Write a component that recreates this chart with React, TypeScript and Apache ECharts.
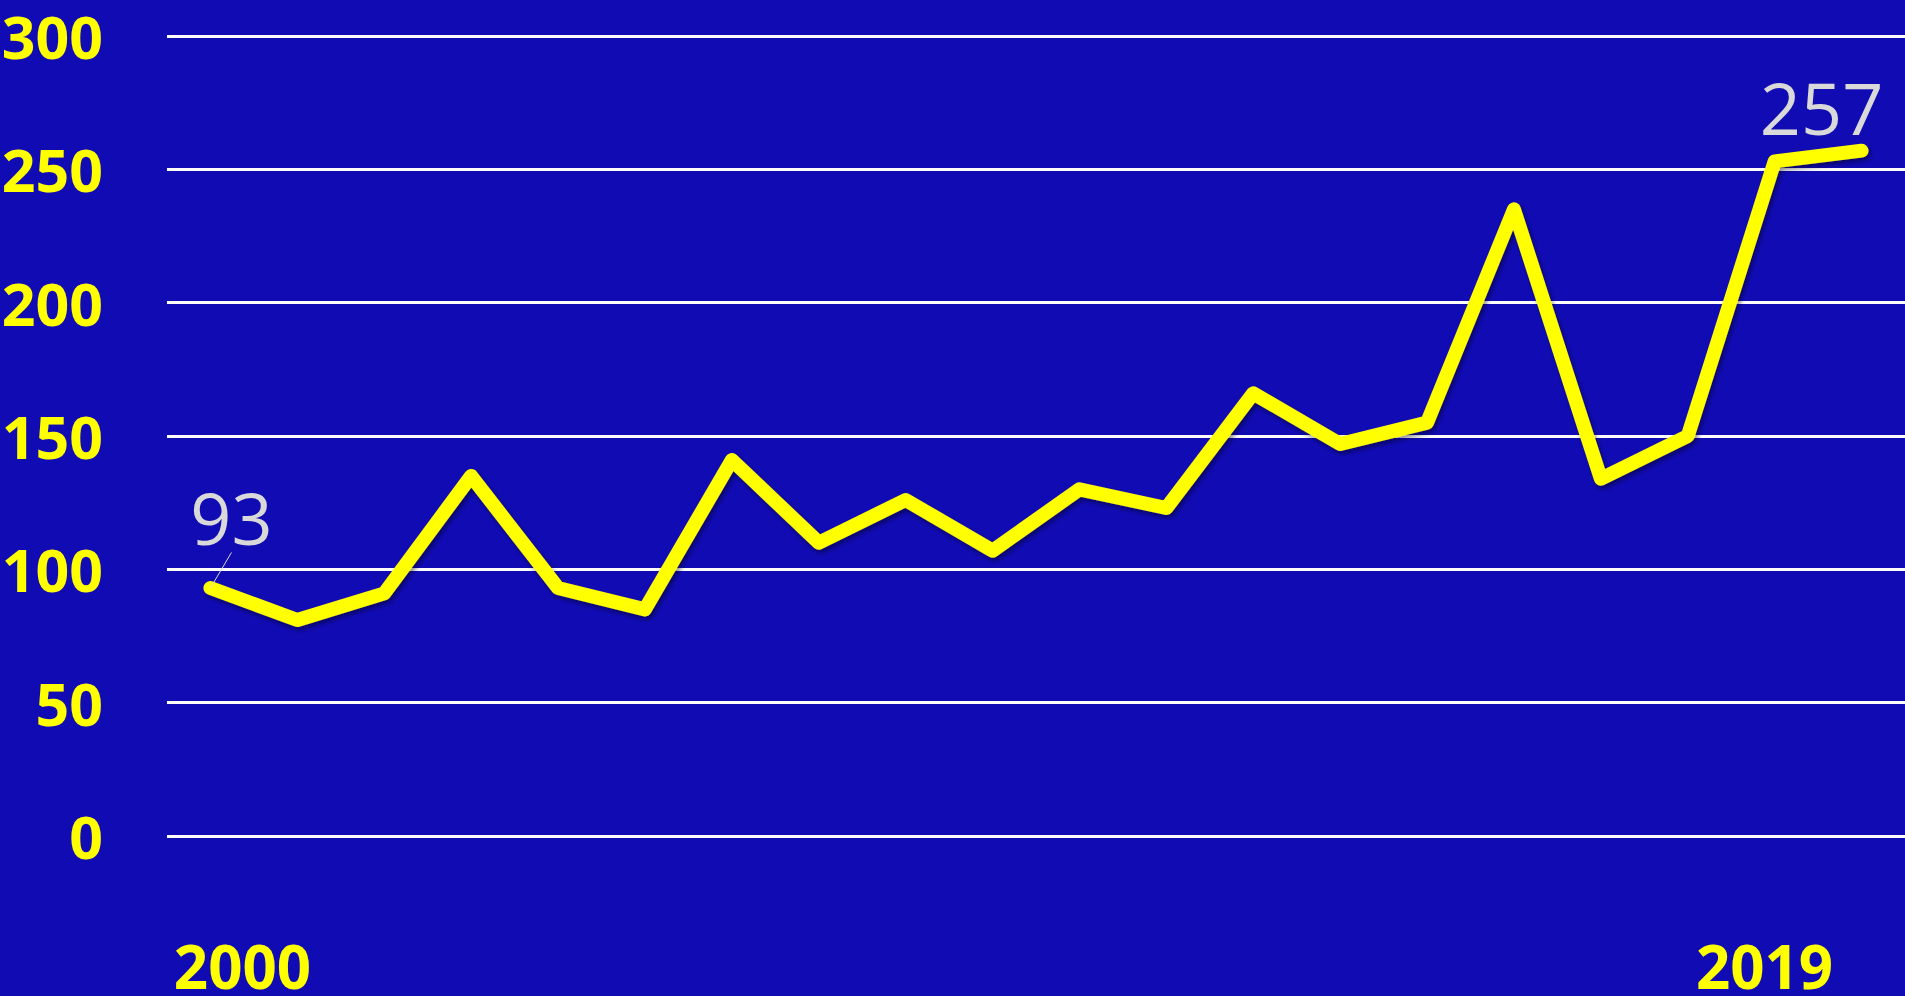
import React, { useEffect, useRef } from "react";
import * as echarts from "echarts";

const years = ["2000","2001","2002","2003","2004","2005","2006","2007","2008","2009","2010","2011","2012","2013","2014","2015","2016","2017","2018","2019"];
const values = [93, 81, 91, 135, 93, 85, 141, 110, 126, 107, 130, 123, 166, 147, 155, 235, 134, 150, 253, 257];
const yTicks = { min: 0, max: 300, interval: 50 };
const labelledIdx = [0, 19];

export default function App() {
  const ref = useRef<HTMLDivElement>(null);
  useEffect(() => {
    document.body.style.margin = "0";
    document.body.style.overflow = "hidden";
    const chart = echarts.init(ref.current!, null, { renderer: "svg" });
    const last = years.length - 1;
    chart.setOption({
      animation: false,
      backgroundColor: "#110bb4",
      grid: { left: 167, right: 0, top: 36, bottom: 160, containLabel: false, outerBoundsMode: "none" },
      xAxis: {
        type: "category",
        data: years,
        boundaryGap: true,
        axisLine: { show: false },
        axisTick: { show: false },
        splitLine: { show: false },
        axisLabel: {
          interval: 0,
          margin: 100,
          formatter: (v: string, i: number) => (i === 0 ? `{a|${v}}` : i === last ? `{b|${v}}` : ""),
          rich: {
            a: { color: "#ffff00", fontFamily: "Open Sans", fontWeight: "bold", fontSize: 60, padding: [0, 0, 0, 64] },
            b: { color: "#ffff00", fontFamily: "Open Sans", fontWeight: "bold", fontSize: 60, padding: [0, 194, 0, 0] },
          },
        },
      },
      yAxis: {
        type: "value",
        min: yTicks.min,
        max: yTicks.max,
        interval: yTicks.interval,
        axisLine: { show: false },
        axisTick: { show: false },
        splitLine: { show: true, lineStyle: { color: "#ffffff", width: 3 } },
        axisLabel: {
          margin: 64,
          color: "#ffff00",
          fontFamily: "Open Sans",
          fontWeight: "bold",
          fontSize: 59,
          lineHeight: 59,
          padding: [0, 0, 10, 0],
        },
      },
      series: [
        {
          type: "line",
          data: values.map((v, i) => ({
            value: v,
            label: { show: labelledIdx.includes(i) },
            labelLine: { show: i === 0, lineStyle: { color: "#d9d9d9", width: 1 } },
          })),
          symbol: "circle",
          symbolSize: 1,
          showSymbol: true,
          itemStyle: { color: "rgba(0,0,0,0)" },
          lineStyle: {
            color: "#ffff00",
            width: 14,
            cap: "round",
            join: "round",
            shadowColor: "rgba(0,0,0,0.45)",
            shadowBlur: 5,
            shadowOffsetX: 2,
            shadowOffsetY: 3,
          },
          label: {
            show: false,
            position: "top",
            color: "#d9d9d9",
            fontFamily: "Open Sans",
            fontSize: 72,
          },
          labelLayout: (p: any) => (p.dataIndex === 0 ? { dx: 21, dy: -30 } : { dx: -40, dy: -2 }),
        },
      ],
    });
    return () => chart.dispose();
  }, []);
  return <div ref={ref} style={{ width: 1905, height: 996 }} />;
}
